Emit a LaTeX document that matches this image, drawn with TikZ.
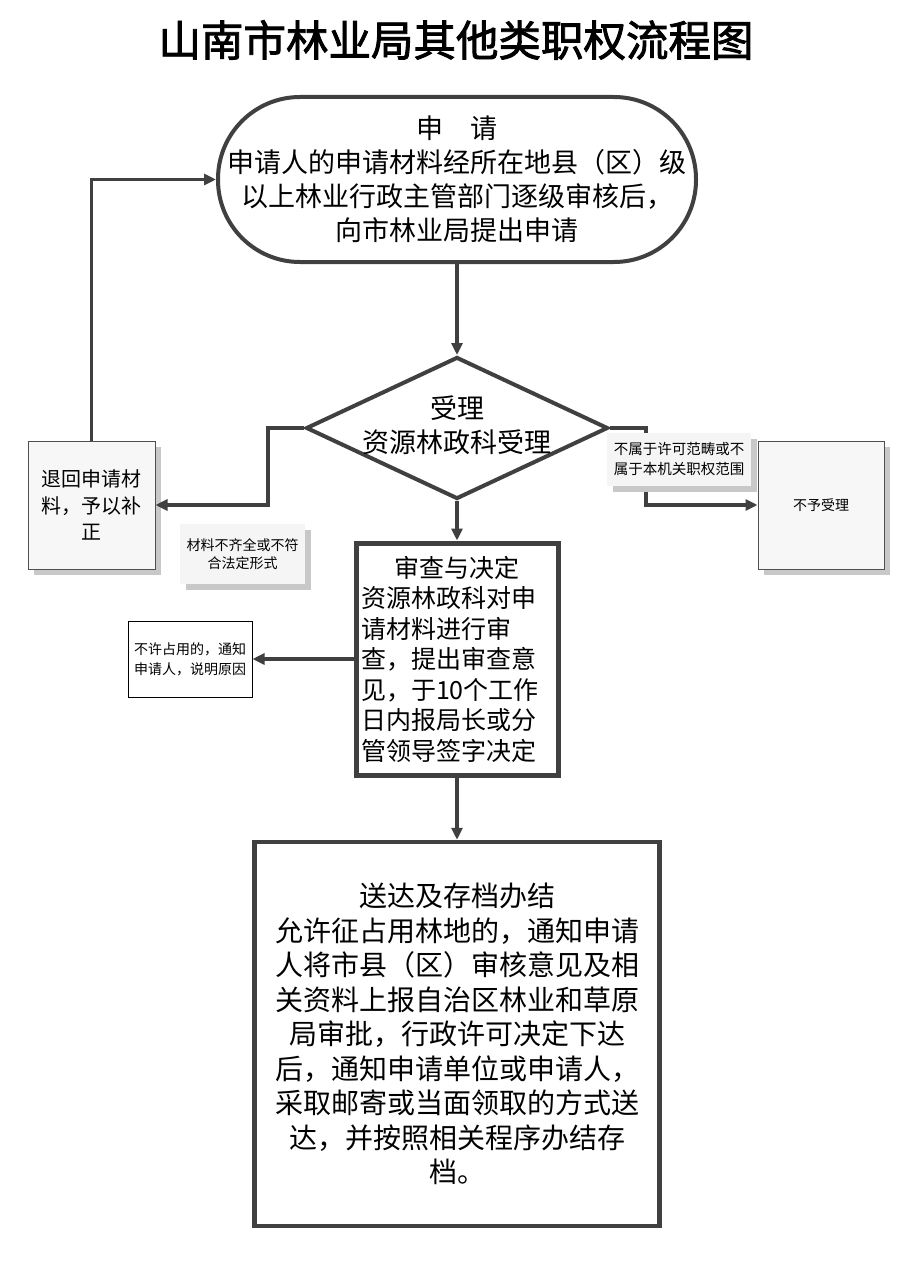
\documentclass[tikz,border=0pt]{standalone}
\usepackage{fontspec}
\setmainfont{Noto Sans CJK SC}
\newfontfamily\titlefont[FakeBold=2]{Noto Sans CJK SC}
\usetikzlibrary{shapes.geometric,arrows.meta,shadows,calc}
\definecolor{lc}{RGB}{64,64,64}
\definecolor{bc}{RGB}{80,80,80}
\definecolor{sh}{RGB}{200,200,200}
\newcommand{\fs}[2]{\fontsize{#1}{#2}\selectfont}
\begin{document}
\begin{tikzpicture}[x=1pt,y=-1pt,
  conn/.style={draw=lc, line width=3.5pt, -{Triangle[length=12pt,width=11pt]}},
  thick box/.style={draw=lc, line width=4.5pt, fill=white},
  sbox/.style={draw=bc, line width=1pt, fill=gray!6, inner sep=3pt, align=center,
     drop shadow={shadow xshift=6pt, shadow yshift=-6pt, fill=sh, opacity=1}},
  tag/.style={fill=gray!8, inner sep=2pt, align=center,
     drop shadow={shadow xshift=6pt, shadow yshift=-6pt, fill=sh, opacity=1}},
  plain box/.style={draw=black, line width=1pt, fill=white, align=center, inner sep=2pt}
]
\useasboundingbox (0,0) rectangle (912,1268);
\fill[white] (0,0) rectangle (912,1268);

% title
\node[font={\titlefont\fs{42.5}{48}}] (title) at (456,40) {山南市林业局其他类职权流程图};

% apply (terminator)
\node[draw=lc, line width=4pt, rounded corners=82pt, minimum width=478pt,
      minimum height=165pt, inner sep=0pt, align=center, font=\fs{27}{34}] (apply) at (457,179.5)
  {申\hspace{1em}请\\申请人的申请材料经所在地县（区）级\\以上林业行政主管部门逐级审核后，\\向市林业局提出申请};

% diamond
\node[draw=lc, line width=4pt, shape=diamond, minimum width=302pt, minimum height=142pt,
      inner sep=0pt, fill=white] (accept) at (457,428) {};
\node[align=center, font=\fs{27}{34}] (accepttxt) at (457,425) {受理\\资源林政科受理};

% left return box
\node[sbox, minimum width=127pt, minimum height=128pt, font=\fs{20}{26.5}] (ret) at (91.5,505)
  {退回申请材\\料，予以补\\正};

% right reject box
\node[sbox, minimum width=126pt, minimum height=128pt, font=\fs{14}{18}] (nobox) at (821,505) {不予受理};

% review box
\node[thick box, line width=5pt, minimum width=202pt, minimum height=232pt, text width=192pt,
      inner sep=4pt, align=left, font=\fs{25}{30.5}] (review) at (457,659)
  {\makebox[192pt][c]{审查与决定}\\资源林政科对申\\请材料进行审\\查，提出审查意\\见，于10个工作\\日内报局长或分\\管领导签字决定};

% deny box
\node[plain box, minimum width=124pt, minimum height=76pt, font=\fs{14}{20}] (deny) at (190,659)
  {不许占用的，通知\\申请人，说明原因};

% deliver box
\node[thick box, minimum width=405pt, minimum height=384pt, align=center, font=\fs{28}{34.5}] (deliver) at (457,1034)
  {送达及存档办结\\允许征占用林地的，通知申请\\人将市县（区）审核意见及相\\关资料上报自治区林业和草原\\局审批，行政许可决定下达\\后，通知申请单位或申请人，\\采取邮寄或当面领取的方式送\\达，并按照相关程序办结存\\档。};

% connectors
\coordinate (bendL) at (268,428);
\coordinate (bendR) at (646,428);
\draw[conn] (apply.south) -- (accept.north);
\draw[conn] (accept.west) -- (bendL) |- (ret.east);
\draw[conn] (ret.north) |- (apply.west);
\draw[conn] (accept.east) -- (bendR) |- (nobox.west);
\draw[conn] (accept.south) -- (review.north);
\draw[conn] (review.west) -- (deny.east);
\draw[conn] (review.south) -- (deliver.north);

% tags
\node[tag, minimum width=125pt, minimum height=60pt, font=\fs{14}{18}] (tagL) at (242.5,554)
  {材料不齐全或不符\\合法定形式};
\node[tag, minimum width=144pt, minimum height=53pt, font=\fs{14.5}{20}] (tagR) at (679,459.5)
  {不属于许可范畴或不\\属于本机关职权范围};
\end{tikzpicture}
\end{document}
